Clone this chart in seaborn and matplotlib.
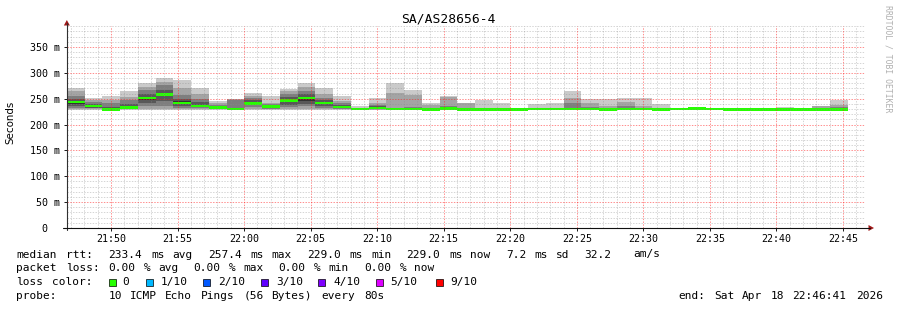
import re
import numpy as np
import matplotlib
matplotlib.use("Agg")
import matplotlib.pyplot as plt
import seaborn as sns
from matplotlib.lines import Line2D
from matplotlib.patches import Polygon, Rectangle
from matplotlib.ticker import FixedLocator

# ---------------- data ----------------
title = "SA/AS28656-4"
ylabel = "Seconds"
x_tick_minutes = [50, 55, 60, 65, 70, 75, 80, 85, 90, 95, 100, 105]
x_tick_labels = ["21:50", "21:55", "22:00", "22:05", "22:10", "22:15",
                 "22:20", "22:25", "22:30", "22:35", "22:40", "22:45"]
y_tick_values = [0, 50, 100, 150, 200, 250, 300, 350]
y_tick_labels = ["0  ", "50 m", "100 m", "150 m", "200 m", "250 m", "300 m", "350 m"]

start_minute = 46 + 41 / 60      # 21:46:41
step_minutes = 80 / 60           # one sample every 80 s
window_minutes = 60

# ten sorted pings per 80 s step (ms)
ping1 = [228.5, 229, 226, 229, 228, 228, 228, 229, 229, 228, 229, 229, 228, 229, 229, 229, 228, 228, 228, 228, 227.5, 228,
         228, 228, 228, 228, 228.5, 228.5, 228, 228, 228, 228.5, 228.5, 228, 229, 230, 228.5, 228, 228, 228, 228, 228, 228, 228]
ping2 = [230, 230, 227, 230, 231, 231, 230, 230, 229.5, 228, 231, 230, 230, 231, 231, 230, 228.5, 229, 229, 229, 228, 229,
         228.5, 228.5, 228.5, 228.5, 229, 229, 229, 229, 228.5, 229, 229, 228.5, 229.5, 230.5, 229, 228.5, 228.5, 228.5, 228.5, 228.5, 228.5, 228.5]
ping3 = [233, 231.5, 228, 231, 236, 236, 233, 232, 230, 229, 234, 231, 234, 235, 233, 231, 229, 230, 229.5, 230, 228.5, 230,
         229, 229, 229, 228.5, 229, 229, 229.5, 229.5, 229, 229, 229, 229, 229.5, 230.5, 229, 228.5, 228.5, 228.5, 229, 229, 229, 229]
ping4 = [236, 233, 228.5, 232, 242, 246, 236, 233.5, 231, 230, 237, 232, 238, 240, 236, 232, 229, 231, 230, 230.5, 229, 231,
         229, 229, 229, 229, 229.5, 229.5, 230, 230, 229, 229.5, 229.5, 229, 230, 231, 229.5, 229, 229, 229, 229, 229, 229, 229]
ping5 = [240, 235, 229, 232.5, 248, 255, 239, 235, 232, 230, 239, 233, 244, 246, 239, 233, 229.5, 231.5, 230, 231, 229, 231,
         229, 229, 229, 229, 230, 230, 230, 230, 229.5, 230, 230, 229.5, 230, 231, 229.5, 229, 229, 229, 229, 229, 229, 229.5]
ping6 = [246, 237, 230, 234, 254, 261, 245, 237, 234, 231, 243, 235, 249, 254, 243, 235, 230, 233, 231, 232, 230, 232,
         230, 230, 230, 229.5, 230.5, 230.5, 231, 231, 230, 230.5, 230.5, 230, 230, 231, 230, 229, 229, 229, 229.5, 229.5, 229.5, 230]
ping7 = [250, 240, 234, 240, 260, 267, 250, 243, 236, 232, 248, 237, 254, 260, 247, 238, 230.5, 235, 232, 233, 231, 233,
         231, 230.5, 230, 229.5, 231, 231, 233, 232, 231, 233, 231.5, 230.5, 230.5, 231.5, 230, 229.5, 229.5, 229.5, 229.5, 229.5, 230, 232]
ping8 = [256, 244, 241, 247, 267, 276, 258, 250, 238, 248, 252, 239, 260, 265, 252, 241, 231, 237, 233, 234, 233, 236,
         233, 231, 231, 230, 231.5, 231.5, 242, 234, 233, 236, 233, 231, 230.5, 231.5, 230.5, 229.5, 229.5, 229.5, 230, 230, 232, 234]
ping9 = [264, 248, 248, 254, 272, 283, 271, 260, 242, 249, 256, 241, 264, 272, 259, 245, 233, 241, 262, 257, 238, 254,
         241, 233, 232, 230.5, 232, 233, 251, 241, 236, 244, 236, 232, 231, 232, 230.5, 230, 230, 230, 231, 230.5, 235, 238]
ping10 = [270, 252, 256, 264, 280, 291, 286, 271, 246, 249.5, 262, 255, 269, 281, 270, 255, 236, 251, 280, 267, 242, 256,
          242, 248, 242, 231, 240, 242, 264, 249, 249, 252, 252, 240, 231, 232, 231, 230, 230.5, 230.5, 234, 232, 236, 247]
median_rtt = [243.5, 236, 229.5, 233, 251, 258, 242, 236, 233, 230.5, 241, 234.5, 247, 251.5, 241.5, 233.5, 229.7, 232, 230.3,
              230.5, 229.3, 231, 229.5, 229.4, 229.4, 229, 230, 230, 230, 230, 229.5, 230, 230, 229.5, 230, 231, 229.7,
              229, 229, 229, 229, 229, 229, 229.5]

legend_lines = [
    "median rtt:  233.4 ms avg  257.4 ms max  229.0 ms min  229.0 ms now  7.2 ms sd  32.2   am/s",
    "packet loss: 0.00 % avg  0.00 % max  0.00 % min  0.00 % now",
    "loss color:",
    "probe:       10 ICMP Echo Pings (56 Bytes) every 80s",
]
end_text = "end: Sat Apr 18 22:46:41 2026"
loss_labels = ["0", "1/10", "2/10", "3/10", "4/10", "5/10", "9/10"]
loss_colors = ["#26ff00", "#00b8ff", "#0059ff", "#5e00ff", "#7e00ff", "#dd00ff", "#ff0000"]
watermark = "RRDTOOL / TOBI OETIKER"

# ---------------- figure ----------------
sns.set_theme(style="white")
plt.rcParams['font.family'] = ['DejaVu Sans Mono', 'DejaVu Sans']

W, H = 897, 310
fig = plt.figure(figsize=(W / 100, H / 100), dpi=100, facecolor="white")


def fx(p):
    return p / W


def fy(p):
    return 1 - p / H


AX_L, AX_R, AX_T, AX_B = 66.85, 865.4, 26.0, 228.0
YMAX = 390.6
ax = fig.add_axes([fx(AX_L), fy(AX_B), (AX_R - AX_L) / W, (AX_B - AX_T) / H])
ax.set_facecolor("white")
ax.set_xlim(start_minute, start_minute + window_minutes)
ax.set_ylim(0, YMAX)
for s in ax.spines.values():
    s.set_visible(False)

n = len(median_rtt)
edges = start_minute + step_minutes * np.arange(n + 1)
pings = [ping1, ping2, ping3, ping4, ping5, ping6, ping7, ping8, ping9, ping10]
shades = ["#cacaca", "#a4a4a4", "#7e7e7e", "#585858", "#323232"]


def ext(a):
    a = np.asarray(a, dtype=float)
    return np.append(a, a[-1])


for i in range(5):
    ax.fill_between(edges, ext(pings[i]), ext(pings[9 - i]), step="post",
                    color=shades[i], linewidth=0, zorder=1 + i * 0.1)

half = 1.25 * YMAX / (AX_B - AX_T)  # about one pixel each side
med = ext(median_rtt)
ax.fill_between(edges, med - half, med + half, step="post", color=loss_colors[0],
                linewidth=0, zorder=2)

# grid (drawn over the data, as rrdtool does)
minor_x = [m for m in range(47, 107) if m % 5 != 0]
minor_y = [v for v in range(10, 391, 10) if v % 50 != 0]
ax.xaxis.set_major_locator(FixedLocator(x_tick_minutes))
ax.xaxis.set_minor_locator(FixedLocator(minor_x))
ax.yaxis.set_major_locator(FixedLocator(y_tick_values))
ax.yaxis.set_minor_locator(FixedLocator(minor_y))
ax.set_xticklabels(x_tick_labels)
ax.set_yticklabels(y_tick_labels)
ax.grid(False)
ax.set_axisbelow(False)
ax.tick_params(which="major", length=2.2, width=0.72, color="#202020", labelsize=7.2,
               labelcolor="black", bottom=True, left=True)
ax.tick_params(which="minor", length=0, bottom=False, left=False)
ax.tick_params(axis="x", which="major", pad=2.0)
ax.tick_params(axis="y", which="major", pad=3.0)

dots = (0, (1.4, 1.4))
grid_kw = dict(linestyle=dots, linewidth=0.72, zorder=3)
for v in minor_y:
    ax.axhline(v, color="#8c8c8c", alpha=0.36, **grid_kw)
for m in minor_x:
    ax.axvline(m, color="#8c8c8c", alpha=0.36, **grid_kw)
for v in y_tick_values[1:]:
    ax.axhline(v, color="#ff2020", alpha=0.5, **grid_kw)
for m in x_tick_minutes:
    ax.axvline(m, color="#ff2020", alpha=0.5, **grid_kw)

# axes lines and arrows
fig.add_artist(Line2D([fx(AX_L), fx(AX_L)], [fy(230), fy(23)], color="#303030", lw=0.8))
fig.add_artist(Line2D([fx(63), fx(870)], [fy(AX_B), fy(AX_B)], color="#101010", lw=0.8))
arrow_c = "#a01818"
fig.add_artist(Polygon([[fx(AX_L), fy(20)], [fx(AX_L - 3), fy(25.5)], [fx(AX_L + 3), fy(25.5)]],
                       closed=True, color=arrow_c, lw=0))
fig.add_artist(Polygon([[fx(874), fy(AX_B)], [fx(868.5), fy(AX_B - 3)], [fx(868.5), fy(AX_B + 3)]],
                       closed=True, color=arrow_c, lw=0))

# titles
fig.text(fx(448.5), fy(19.5), title, ha="center", va="center", fontsize=9.4,
         family="DejaVu Sans Mono", color="black")
fig.text(fx(10.8), fy(122.5), ylabel, ha="center", va="center", rotation=90,
         fontsize=7.4, family="DejaVu Sans", color="black")
fig.text(fx(888), fy(5), watermark, ha="center", va="top", rotation=270,
         fontsize=5.9, family="DejaVu Sans Mono", color="#b0b0b0")

# legend text, placed word by word on a fixed character grid
COL = 7.1
baselines = [257.5, 271.3, 285.1, 299.0]


def put_words(line, x0, ybase):
    for m in re.finditer(r"\S+", line):
        fig.text(fx(x0 + m.start() * COL), fy(ybase), m.group(), ha="left", va="baseline",
                 fontsize=8, family="DejaVu Sans Mono", color="black")


for line, yb in zip(legend_lines, baselines):
    put_words(line, 16, yb)
put_words(end_text, 678.3, baselines[3])

box_x = [109, 146, 203.3, 261, 318.3, 376, 436]
lab_x = [122.7, 160.7, 218.3, 276, 333.3, 390, 450]
for bx, lx, lab, col in zip(box_x, lab_x, loss_labels, loss_colors):
    fig.add_artist(Rectangle((fx(bx), fy(285.5)), 7 / W, 7 / H, facecolor=col,
                             edgecolor="#000000", linewidth=0.5))
    fig.text(fx(lx), fy(baselines[2]), lab, ha="left", va="baseline", fontsize=8,
             family="DejaVu Sans Mono", color="black")

fig.savefig("out.png", dpi=100, facecolor="white")
